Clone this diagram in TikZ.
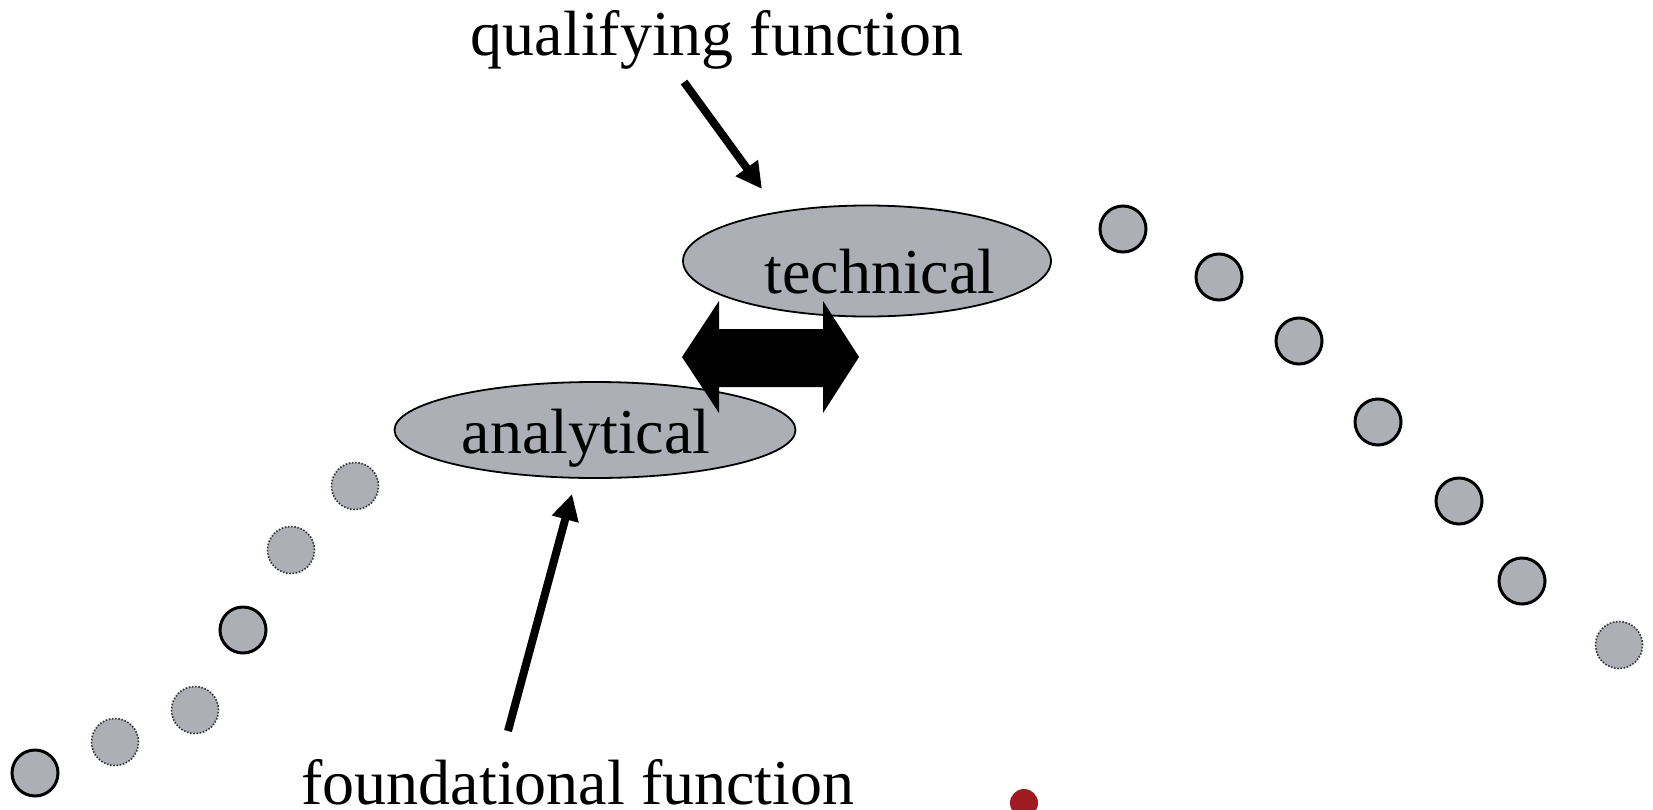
\documentclass[tikz,border=0pt]{standalone}
\usepackage{fontspec}
\setmainfont{Liberation Serif}
\usetikzlibrary{shapes.geometric,arrows.meta}
\definecolor{dotgray}{RGB}{173,175,182}
\definecolor{dotred}{RGB}{160,26,34}
\tikzset{
  solidc/.style={circle,draw=black,line width=3pt,fill=dotgray,minimum size=46pt,inner sep=0pt},
  dottedc/.style={circle,draw=black!80,line width=1.6pt,dash pattern=on 1.6pt off 1.6pt,fill=dotgray,minimum size=47pt,inner sep=0pt},
  ell/.style={ellipse,draw=black,line width=1.8pt,fill=dotgray,inner sep=0pt},
  lbl/.style={font=\fontsize{64}{72}\selectfont,anchor=base,inner sep=0pt},
  thickarrow/.style={line width=8pt,-{Triangle[length=26pt,width=26pt]}}
}
\begin{document}
\begin{tikzpicture}[x=1pt,y=-1pt]
\useasboundingbox (0,0) rectangle (1653,809);
% left chain
\node[solidc]  (l1) at (35,773) {};
\node[dottedc] (l2) at (115,742) {};
\node[dottedc] (l3) at (195,710) {};
\node[solidc]  (l4) at (243,630) {};
\node[dottedc] (l5) at (291,550) {};
\node[dottedc] (l6) at (355,486) {};
% right chain
\node[solidc]  (r1) at (1123,229) {};
\node[solidc]  (r2) at (1219,277) {};
\node[solidc]  (r3) at (1299,341) {};
\node[solidc]  (r4) at (1378,422) {};
\node[solidc]  (r5) at (1459,501) {};
\node[solidc]  (r6) at (1522,581) {};
\node[dottedc] (r7) at (1619,645) {};
% red dot
\node[circle,fill=dotred,minimum size=28pt,inner sep=0pt] (red) at (1024,803) {};
% ellipses
\node[ell,minimum width=368pt,minimum height=111pt] (tech) at (867,261) {};
\node[ell,minimum width=401pt,minimum height=96pt] (anal) at (595,430) {};
\node[lbl] (techt) at (880,293) {technical};
\node[lbl] (analt) at (586,453) {analytical};
% double arrow
\fill[black] (682,357) -- (719,301) -- (719,329) -- (823,329) -- (823,301) -- (859,357)
  -- (823,413) -- (823,387) -- (719,387) -- (719,413) -- cycle;
% labels
\node[lbl] (qual) at (717,55) {qualifying function};
\node[lbl] (found) at (578,804) {foundational function};
% arrows
\coordinate (qs) at (684,82);
\coordinate (qe) at (762,189);
\coordinate (fs) at (508,731);
\coordinate (fe) at (572,494);
\draw[thickarrow] (qs) -- (qe);
\draw[thickarrow] (fs) -- (fe);
\end{tikzpicture}
\end{document}
